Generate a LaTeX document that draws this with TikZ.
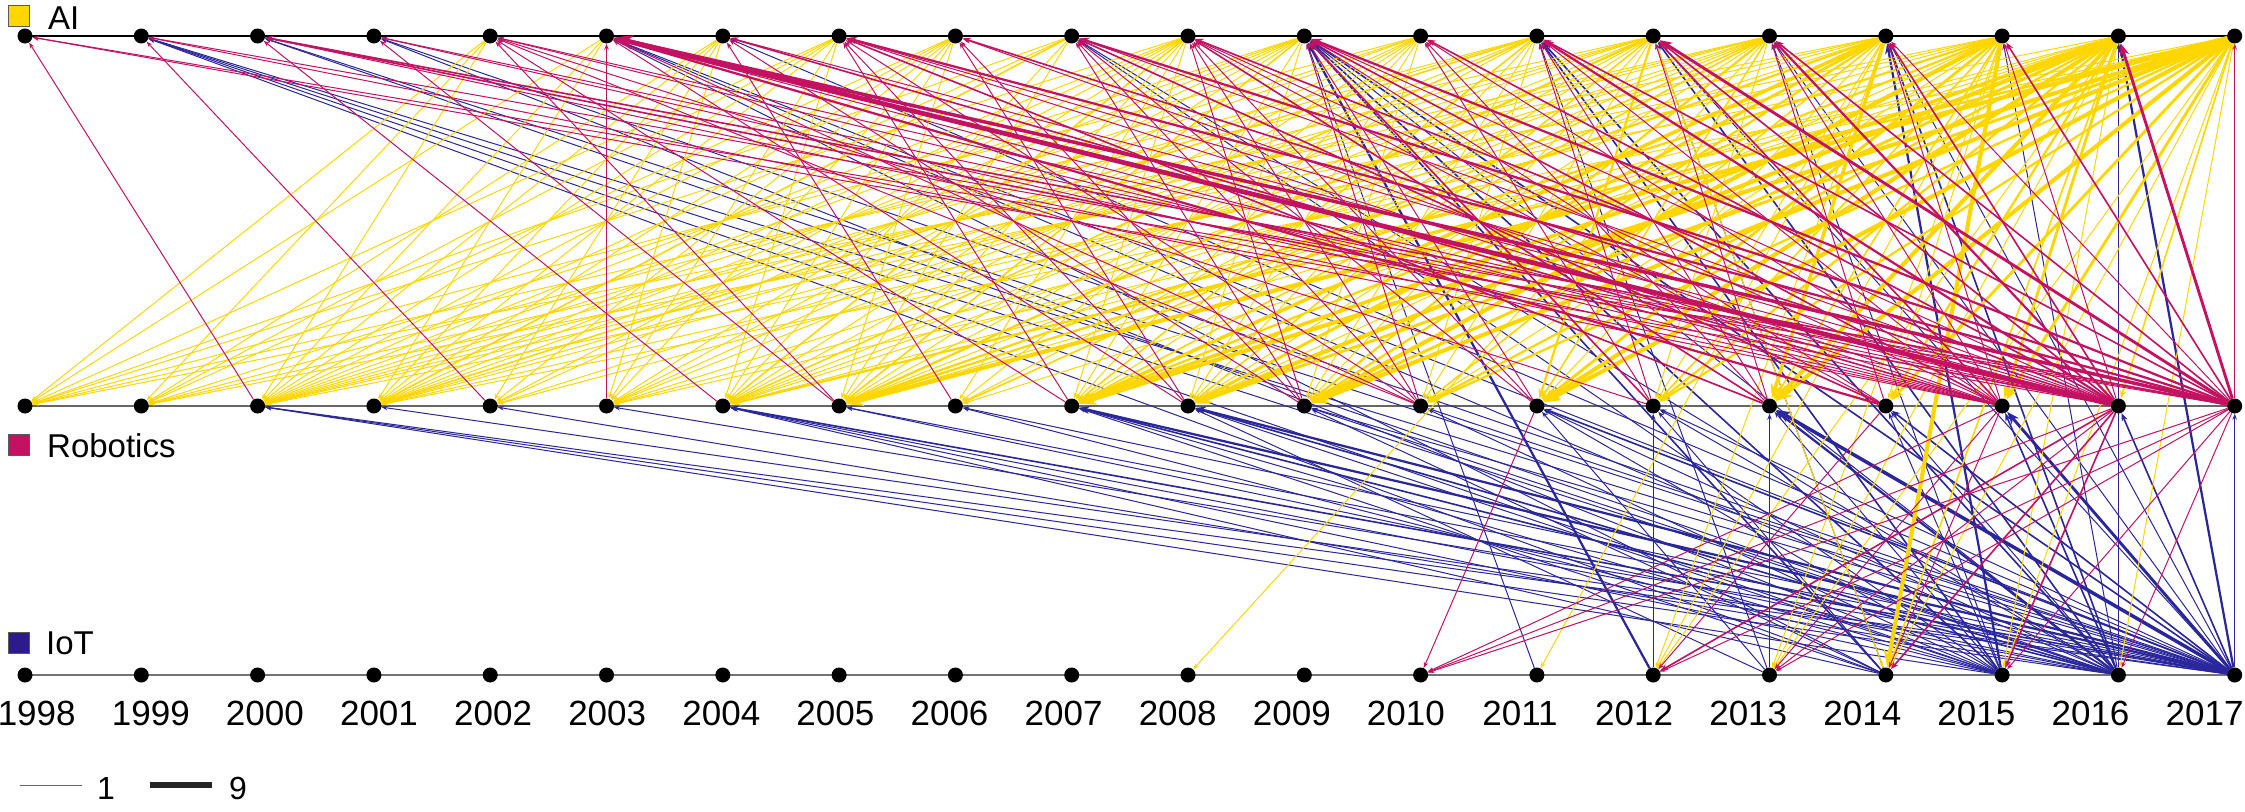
\documentclass[tikz,border=0pt]{standalone}
\usepackage{fontspec}
\setmainfont{Liberation Sans}
\usetikzlibrary{arrows.meta}
\pgfdeclarelayer{bg}
\pgfsetlayers{bg,main}
\definecolor{aiC}{RGB}{255,214,0}
\definecolor{roC}{RGB}{197,17,98}
\definecolor{ioC}{RGB}{42,38,155}
\definecolor{ioK}{RGB}{45,27,140}
\begin{document}
\begin{tikzpicture}[x=1pt,y=-1pt,
  dot/.style={circle,fill=black,inner sep=0pt,minimum size=15pt},
  sq/.style={draw=gray!70!black,line width=1pt,inner sep=0pt,minimum size=21pt},
  lab/.style={anchor=base west,inner sep=0pt,font=\fontsize{33}{38}\selectfont},
  yr/.style={anchor=base,inner sep=0pt,font=\fontsize{35}{40}\selectfont},
  lnk/.style={-{Stealth[length=2.5pt 3.5]}},
  yl/.style={lnk,color=aiC},
  pk/.style={lnk,color=roC},
  bl/.style={lnk,color=ioC}]
\useasboundingbox (0,0) rectangle (2245,811);
% nodes
\foreach \y [count=\k from 0] in {1998,...,2017}{
  \node[dot] (a\y) at ({25+116.3*\k},36) {};
  \node[dot] (r\y) at ({25+116.3*\k},406) {};
  \node[dot] (i\y) at ({25+116.3*\k},675) {};
  \node[yr] (l\y) at ({36.7+114.1*\k},725) {\y};
}
% legend
\node[sq,fill=aiC] (kai) at (19,15.5) {};
\node[lab] (tai) at (48,29) {AI};
\node[sq,fill=roC] (kro) at (19,445) {};
\node[lab] (tro) at (47,457) {Robotics};
\node[sq,fill=ioK] (kio) at (19,643) {};
\node[lab] (tio) at (46,654) {IoT};
\coordinate (w1a) at (20,785); \coordinate (w1b) at (82,785);
\coordinate (w9a) at (150,785); \coordinate (w9b) at (212,785);
\draw[line width=1pt,gray!80!black] (w1a) -- (w1b);
\draw[line width=6pt,black!85] (w9a) -- (w9b);
\node[anchor=base west,inner sep=0pt,font=\fontsize{32}{36}\selectfont] (t1) at (97,799) {1};
\node[anchor=base west,inner sep=0pt,font=\fontsize{32}{36}\selectfont] (t9) at (229,799) {9};
\begin{pgfonlayer}{bg}
\draw[line width=1.6pt,black] (a1998.center) -- (a2017.center);
\draw[line width=1.6pt,black!60] (r1998.center) -- (r2017.center);
\draw[line width=1.6pt,black!55] (i1998.center) -- (i2017.center);
% blue IoT -> Robotics
\foreach \s/\t/\w in {2017/2000/1,2017/2001/1,2017/2003/1,2017/2004/2,2017/2005/1,2017/2006/1,2017/2007/3,2017/2008/3,2017/2009/1,2017/2010/1,2017/2011/2,2017/2012/1,2017/2013/5,2017/2014/2,2017/2015/4,2017/2016/2,2017/2017/1,
2016/2000/1,2016/2002/1,2016/2004/1,2016/2005/1,2016/2007/2,2016/2008/2,2016/2009/1,2016/2011/1,2016/2012/1,2016/2013/3,2016/2014/1,2016/2015/2,
2015/2000/1,2015/2004/1,2015/2006/1,2015/2007/1,2015/2008/1,2015/2010/1,2015/2011/1,2015/2013/1,2015/2014/1,
2014/2004/1,2014/2007/1,2014/2009/1,2014/2012/1,2013/2008/1,2013/2011/1,2013/2013/1,2012/2012/1}
  {\draw[bl,line width={0.375+0.625*\w}] (i\s) -- (r\t);}
% blue IoT -> AI
\foreach \s/\t/\w in {2015/1999/1,2016/1999/1,2017/1999/1,2014/1999/1,2016/2000/1,2017/2000/1,2015/2001/1,2017/2001/1,
2014/2003/1,2016/2003/1,2017/2003/1,2017/2004/1,2016/2007/1,2015/2007/1,
2011/2009/1,2012/2009/3,2014/2009/2,2015/2009/2,2016/2009/1,2017/2009/2,
2013/2011/1,2015/2011/2,2016/2011/2,2014/2012/1,2016/2012/2,2017/2012/1,2015/2013/1,2017/2013/1,
2015/2014/3,2016/2014/2,2017/2014/1,2016/2015/1,2016/2016/1,2017/2016/3}
  {\draw[bl,line width={0.375+0.625*\w}] (i\s) -- (a\t);}
% yellow AI -> Robotics
\foreach \s/\t/\w in {2002/1998/1,2003/1998/1,2005/1998/1,2007/1998/1,2008/1998/1,2010/1998/1,2012/1998/1,2014/1998/1,
2002/1999/1,2004/1999/1,2005/1999/1,2006/1999/1,2009/1999/1,2011/1999/1,2013/1999/1,2015/1999/1,
2002/2000/1,2003/2000/1,2004/2000/1,2005/2000/1,2006/2000/1,2007/2000/1,2008/2000/1,2009/2000/1,2010/2000/1,2011/2000/1,2012/2000/1,2013/2000/1,2014/2000/1,2016/2000/1,
2003/2001/1,2004/2001/1,2005/2001/1,2006/2001/1,2007/2001/2,2008/2001/1,2009/2001/1,2010/2001/1,2011/2001/2,2012/2001/1,2013/2001/1,2015/2001/1,2017/2001/1,
2004/2002/1,2006/2002/1,2008/2002/1,2009/2002/1,2012/2002/1,2014/2002/1,
2004/2003/1,2005/2003/1,2006/2003/1,2008/2003/1,2009/2003/1,2010/2003/1,2011/2003/1,2013/2003/1,2015/2003/1,2017/2003/1,
2005/2004/1,2006/2004/1,2007/2004/1,2008/2004/2,2009/2004/1,2010/2004/1,2011/2004/2,2012/2004/1,2013/2004/1,2014/2004/1,2016/2004/1,2017/2004/3,
2006/2005/1,2007/2005/1,2008/2005/1,2009/2005/2,2010/2005/1,2011/2005/1,2012/2005/3,2013/2005/1,2014/2005/3,2015/2005/3,2016/2005/1,2017/2005/6,
2008/2006/1,2010/2006/1,2012/2006/1,2013/2006/2,2016/2006/1,
2008/2007/1,2009/2007/1,2010/2007/1,2011/2007/2,2012/2007/1,2013/2007/2,2014/2007/5,2015/2007/3,2016/2007/5,2017/2007/6,
2009/2008/1,2010/2008/1,2011/2008/1,2012/2008/2,2013/2008/1,2014/2008/4,2015/2008/1,2016/2008/6,2017/2008/4,
2010/2009/1,2011/2009/1,2012/2009/1,2013/2009/3,2014/2009/3,2015/2009/6,2016/2009/4,2017/2009/6,
2011/2010/1,2012/2010/1,2014/2010/2,2015/2010/1,2016/2010/3,2017/2010/3,
2012/2011/3,2013/2011/2,2014/2011/1,2015/2011/4,2016/2011/6,2017/2011/6,
2013/2012/1,2014/2012/1,2015/2012/2,2016/2012/3,2017/2012/3,
2014/2013/5,2015/2013/2,2016/2013/6,2017/2013/6,
2015/2014/1,2016/2014/3,2017/2014/4,2016/2015/4,2017/2015/4,2017/2016/2}
  {\draw[yl,line width={0.375+0.625*\w}] (a\s) -- (r\t);}
% yellow AI -> IoT
\foreach \s/\t/\w in {2013/2008/1,2014/2011/1,2014/2012/1,2015/2012/1,2016/2012/1,2015/2013/1,2016/2013/1,2017/2013/1,
2012/2014/1,2015/2014/6,2016/2014/2,2017/2014/1,2016/2015/1,2017/2015/1,2017/2016/1}
  {\draw[yl,line width={0.375+0.625*\w}] (a\s) -- (i\t);}
% pink Robotics -> AI
\foreach \s/\t/\w in {2000/1998/1,2016/1998/1,2017/1998/1,2002/1999/1,2015/1999/1,2017/1999/1,
2004/2000/1,2015/2000/1,2016/2000/2,2017/2000/2,
2005/2001/1,2016/2001/1,2015/2001/1,
2005/2002/1,2007/2002/1,2012/2002/1,2015/2002/1,2016/2002/1,2010/2002/1,
2003/2003/1,2008/2003/1,2010/2003/1,2014/2003/3,2015/2003/1,2016/2003/7,2017/2003/5,
2006/2004/1,2009/2004/1,2016/2004/1,2015/2004/2,
2007/2005/1,2008/2005/1,2010/2005/1,2013/2005/2,2015/2005/1,2016/2005/1,2017/2005/3,
2008/2006/1,2009/2006/1,2016/2006/2,2015/2006/1,
2009/2007/1,2010/2007/1,2011/2007/1,2014/2007/2,2016/2007/1,2017/2007/3,
2009/2008/1,2010/2008/1,2011/2008/1,2013/2008/2,2015/2008/1,2016/2008/2,2014/2008/1,
2010/2009/1,2011/2009/1,2012/2009/2,2014/2009/1,2015/2009/2,2016/2009/1,2017/2009/3,
2012/2010/1,2013/2010/1,2016/2010/2,2015/2010/1,
2012/2011/1,2013/2011/1,2015/2011/1,2016/2011/3,2017/2011/2,
2013/2012/1,2015/2012/2,2016/2012/2,2017/2012/4,
2014/2013/1,2015/2013/1,2016/2013/3,2017/2013/2,
2015/2014/1,2016/2014/2,2017/2014/1,2016/2015/1,2017/2015/2,2017/2016/4,2017/2017/1}
  {\draw[pk,line width={0.375+0.625*\w}] (r\s) -- (a\t);}
% pink Robotics -> IoT
\foreach \s/\t/\w in {2011/2010/1,2015/2010/1,2016/2010/1,2017/2010/1,2014/2012/1,2016/2012/2,2017/2012/1,
2015/2013/1,2016/2013/1,2017/2013/1,2015/2014/1,2016/2014/2,2016/2015/2,2017/2015/1,2017/2016/1}
  {\draw[pk,line width={0.375+0.625*\w}] (r\s) -- (i\t);}
\end{pgfonlayer}
\end{tikzpicture}
\end{document}
